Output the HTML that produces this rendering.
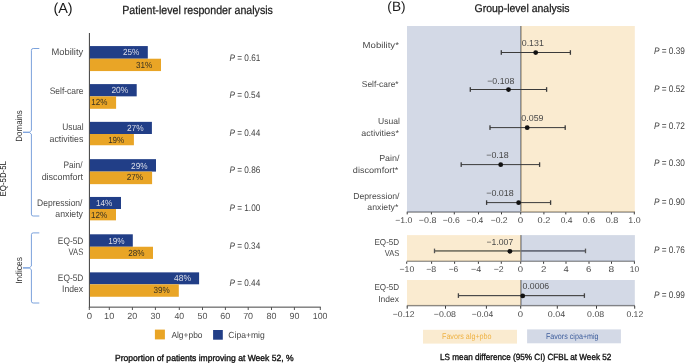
<!DOCTYPE html>
<html><head><meta charset="utf-8"><style>
html,body{margin:0;padding:0;background:#fff;}
svg{display:block;will-change:transform;text-rendering:geometricPrecision;font-family:"Liberation Sans", sans-serif;}
</style></head><body>
<svg width="685" height="363" viewBox="0 0 685 363">
<rect width="685" height="363" fill="#fff"/>
<rect x="88.9" y="33" width="1" height="274.5" fill="#3c3c3c"/>
<rect x="88.9" y="306.6" width="231.9" height="1.1" fill="#555"/>
<rect x="88.8" y="307" width="1" height="3" fill="#555"/>
<rect x="108.8" y="307" width="1" height="3" fill="#555"/>
<rect x="131.9" y="307" width="1" height="3" fill="#555"/>
<rect x="154.9" y="307" width="1" height="3" fill="#555"/>
<rect x="178.8" y="307" width="1" height="3" fill="#555"/>
<rect x="202" y="307" width="1" height="3" fill="#555"/>
<rect x="224.9" y="307" width="1" height="3" fill="#555"/>
<rect x="247.7" y="307" width="1" height="3" fill="#555"/>
<rect x="271" y="307" width="1" height="3" fill="#555"/>
<rect x="293.9" y="307" width="1" height="3" fill="#555"/>
<rect x="319.8" y="307" width="1" height="3" fill="#555"/>
<rect x="89.9" y="46.07" width="57.9" height="12.65" fill="#213e87"/>
<rect x="89.9" y="58.72" width="71.1" height="12.35" fill="#e9a526"/>
<rect x="89.9" y="84.1" width="46.8" height="12.25" fill="#213e87"/>
<rect x="89.9" y="96.35" width="26.2" height="12.45" fill="#e9a526"/>
<rect x="89.9" y="121.85" width="62" height="12.15" fill="#213e87"/>
<rect x="89.9" y="134" width="44" height="11.25" fill="#e9a526"/>
<rect x="89.9" y="159.15" width="66.1" height="12.45" fill="#213e87"/>
<rect x="89.9" y="171.6" width="62.2" height="12.55" fill="#e9a526"/>
<rect x="89.9" y="196.95" width="31.1" height="12.05" fill="#213e87"/>
<rect x="89.9" y="209" width="26.1" height="11.35" fill="#e9a526"/>
<rect x="89.9" y="234.3" width="42.9" height="12.45" fill="#213e87"/>
<rect x="89.9" y="246.75" width="63.1" height="12.15" fill="#e9a526"/>
<rect x="89.9" y="272.36" width="109.2" height="11.95" fill="#213e87"/>
<rect x="89.9" y="284.31" width="88.9" height="12.45" fill="#e9a526"/>
<rect x="154.9" y="329.6" width="10" height="9.8" fill="#e9a526"/>
<rect x="213.1" y="330" width="9.7" height="9.7" fill="#213e87"/>
<path d="M39.3 48.5 L33.2 48.5 Q31.4 48.5 31.4 50.3 L31.4 130.5 L29.2 132.3 L23 132.3 L29.2 132.3 L31.4 134.1 L31.4 214.2 Q31.4 216 33.2 216 L39.3 216" fill="none" stroke="#7ba2dc" stroke-width="1"/>
<path d="M39.3 232.9 L33.2 232.9 Q31.4 232.9 31.4 234.7 L31.4 266.1 L29.2 267.9 L23 267.9 L29.2 267.9 L31.4 269.7 L31.4 301.2 Q31.4 303 33.2 303 L39.3 303" fill="none" stroke="#7ba2dc" stroke-width="1"/>
<rect x="520.1" y="26" width="1.6" height="186.6" fill="#787878"/>
<rect x="520.1" y="235.1" width="1.6" height="26.3" fill="#787878"/>
<rect x="520.1" y="280" width="1.6" height="25.8" fill="#787878"/>
<rect x="406.8" y="211.1" width="228.2" height="1.7" fill="#949494"/>
<rect x="406.8" y="260.5" width="228.2" height="1.4" fill="#8a8a8a"/>
<rect x="406.8" y="304.9" width="228.2" height="1.4" fill="#808080"/>
<rect x="407" y="26" width="113.9" height="186" fill="#8b9bbd" fill-opacity="0.38"/>
<rect x="520.9" y="26" width="113.9" height="186" fill="#f2ca83" fill-opacity="0.38"/>
<rect x="407" y="235.1" width="113.9" height="26" fill="#f2ca83" fill-opacity="0.38"/>
<rect x="520.9" y="235.1" width="114" height="26" fill="#8b9bbd" fill-opacity="0.38"/>
<rect x="407" y="280" width="113.9" height="25.3" fill="#f2ca83" fill-opacity="0.38"/>
<rect x="520.9" y="280" width="113.9" height="25.3" fill="#8b9bbd" fill-opacity="0.38"/>
<rect x="406.7" y="212.2" width="1" height="2.2" fill="#3a3a3a"/>
<rect x="430.9" y="212.2" width="1" height="2.2" fill="#3a3a3a"/>
<rect x="453.8" y="212.2" width="1" height="2.2" fill="#3a3a3a"/>
<rect x="478" y="212.2" width="1" height="2.2" fill="#3a3a3a"/>
<rect x="501" y="212.2" width="1" height="2.2" fill="#3a3a3a"/>
<rect x="520.2" y="212.2" width="1" height="2.2" fill="#3a3a3a"/>
<rect x="543.4" y="212.2" width="1" height="2.2" fill="#3a3a3a"/>
<rect x="565.3" y="212.2" width="1" height="2.2" fill="#3a3a3a"/>
<rect x="587.8" y="212.2" width="1" height="2.2" fill="#3a3a3a"/>
<rect x="610.9" y="212.2" width="1" height="2.2" fill="#3a3a3a"/>
<rect x="633.8" y="212.2" width="1" height="2.2" fill="#3a3a3a"/>
<rect x="406.2" y="261.6" width="1" height="2.2" fill="#3a3a3a"/>
<rect x="431.1" y="261.6" width="1" height="2.2" fill="#3a3a3a"/>
<rect x="454.1" y="261.6" width="1" height="2.2" fill="#3a3a3a"/>
<rect x="477.9" y="261.6" width="1" height="2.2" fill="#3a3a3a"/>
<rect x="500.8" y="261.6" width="1" height="2.2" fill="#3a3a3a"/>
<rect x="520.2" y="261.6" width="1" height="2.2" fill="#3a3a3a"/>
<rect x="543.1" y="261.6" width="1" height="2.2" fill="#3a3a3a"/>
<rect x="565.5" y="261.6" width="1" height="2.2" fill="#3a3a3a"/>
<rect x="588.5" y="261.6" width="1" height="2.2" fill="#3a3a3a"/>
<rect x="611" y="261.6" width="1" height="2.2" fill="#3a3a3a"/>
<rect x="633.9" y="261.6" width="1" height="2.2" fill="#3a3a3a"/>
<rect x="406.7" y="305.9" width="1" height="2.8" fill="#3a3a3a"/>
<rect x="445" y="305.9" width="1" height="2.8" fill="#3a3a3a"/>
<rect x="485.9" y="305.9" width="1" height="2.8" fill="#3a3a3a"/>
<rect x="520.2" y="305.9" width="1" height="2.8" fill="#3a3a3a"/>
<rect x="556.8" y="305.9" width="1" height="2.8" fill="#3a3a3a"/>
<rect x="596" y="305.9" width="1" height="2.8" fill="#3a3a3a"/>
<rect x="634.2" y="305.9" width="1" height="2.8" fill="#3a3a3a"/>
<rect x="501.3" y="52" width="69.1" height="1" fill="#3a3a3a"/><rect x="500.65" y="50.2" width="1.3" height="4.6" fill="#3a3a3a"/><rect x="569.75" y="50.2" width="1.3" height="4.6" fill="#3a3a3a"/><circle cx="535.7" cy="52.6" r="2.4" fill="#111"/>
<rect x="470.3" y="89" width="76.3" height="1" fill="#3a3a3a"/><rect x="469.65" y="87.2" width="1.3" height="4.6" fill="#3a3a3a"/><rect x="545.95" y="87.2" width="1.3" height="4.6" fill="#3a3a3a"/><circle cx="508.5" cy="89.6" r="2.4" fill="#111"/>
<rect x="490" y="127.1" width="75.2" height="1" fill="#3a3a3a"/><rect x="489.35" y="125.3" width="1.3" height="4.6" fill="#3a3a3a"/><rect x="564.55" y="125.3" width="1.3" height="4.6" fill="#3a3a3a"/><circle cx="527.2" cy="127.7" r="2.4" fill="#111"/>
<rect x="461.2" y="164.1" width="78.4" height="1" fill="#3a3a3a"/><rect x="460.55" y="162.3" width="1.3" height="4.6" fill="#3a3a3a"/><rect x="538.95" y="162.3" width="1.3" height="4.6" fill="#3a3a3a"/><circle cx="500.7" cy="164.7" r="2.4" fill="#111"/>
<rect x="486.6" y="202.1" width="64" height="1" fill="#3a3a3a"/><rect x="485.95" y="200.3" width="1.3" height="4.6" fill="#3a3a3a"/><rect x="549.95" y="200.3" width="1.3" height="4.6" fill="#3a3a3a"/><circle cx="518.6" cy="202.7" r="2.4" fill="#111"/>
<rect x="434.5" y="250" width="86.4" height="1.8" fill="#817d6d"/><rect x="520.9" y="250" width="64.6" height="1.8" fill="#6b707e"/><rect x="433.85" y="248.6" width="1.3" height="4.6" fill="#555"/><rect x="584.85" y="248.6" width="1.3" height="4.6" fill="#555"/><circle cx="509.9" cy="251.3" r="2.4" fill="#111"/>
<rect x="458.4" y="295" width="126" height="1.2" fill="#4a4a4a"/><rect x="457.75" y="293.3" width="1.3" height="4.6" fill="#444"/><rect x="583.75" y="293.3" width="1.3" height="4.6" fill="#444"/><circle cx="522.7" cy="295.9" r="2.4" fill="#111"/>
<rect x="423" y="329.8" width="94" height="13.8" fill="#faebd0"/>
<rect x="527.1" y="329.4" width="93.8" height="13.9" fill="#d3d9e6"/>
<text x="53.39" y="12.85" font-size="14.4" fill="#1a1a1a" textLength="19.18" lengthAdjust="spacingAndGlyphs">(A)</text>
<text x="122.25" y="14.45" font-size="11.7" fill="#1a1a1a" textLength="150.67" lengthAdjust="spacingAndGlyphs" stroke="#1a1a1a" stroke-width="0.25">Patient-level responder analysis</text>
<text x="51.45" y="55.4" font-size="9.4" fill="#4a4a4a" textLength="31.75" lengthAdjust="spacingAndGlyphs">Mobility</text>
<text x="49.66" y="93.7" font-size="9.4" fill="#4a4a4a" textLength="33.84" lengthAdjust="spacingAndGlyphs">Self-care</text>
<text x="62.21" y="130.4" font-size="9.4" fill="#4a4a4a" textLength="21.41" lengthAdjust="spacingAndGlyphs">Usual</text>
<text x="49.55" y="141.5" font-size="9.4" fill="#4a4a4a" textLength="33.82" lengthAdjust="spacingAndGlyphs">activities</text>
<text x="63.43" y="168.1" font-size="9.4" fill="#4a4a4a" textLength="19.05" lengthAdjust="spacingAndGlyphs">Pain/</text>
<text x="41.64" y="179.7" font-size="9.4" fill="#4a4a4a" textLength="41.34" lengthAdjust="spacingAndGlyphs">discomfort</text>
<text x="37.02" y="205.5" font-size="9.4" fill="#4a4a4a" textLength="45.46" lengthAdjust="spacingAndGlyphs">Depression/</text>
<text x="55.35" y="217.1" font-size="9.4" fill="#4a4a4a" textLength="27.65" lengthAdjust="spacingAndGlyphs">anxiety</text>
<text x="57.83" y="243.9" font-size="9.4" fill="#4a4a4a" textLength="25.52" lengthAdjust="spacingAndGlyphs">EQ-5D</text>
<text x="68.6" y="255.1" font-size="9.4" fill="#4a4a4a" textLength="14.68" lengthAdjust="spacingAndGlyphs">VAS</text>
<text x="57.83" y="280.8" font-size="9.4" fill="#4a4a4a" textLength="25.52" lengthAdjust="spacingAndGlyphs">EQ-5D</text>
<text x="62.03" y="292.2" font-size="9.4" fill="#4a4a4a" textLength="21.06" lengthAdjust="spacingAndGlyphs">Index</text>
<text x="122.99" y="55.2" font-size="8.9" fill="#dadde8" textLength="16.35" lengthAdjust="spacingAndGlyphs">25%</text>
<text x="135.96" y="68" font-size="8.9" fill="#3a3220" textLength="16.28" lengthAdjust="spacingAndGlyphs">31%</text>
<text x="111.38" y="93.3" font-size="8.9" fill="#dadde8" textLength="16.76" lengthAdjust="spacingAndGlyphs">20%</text>
<text x="91.34" y="105" font-size="8.9" fill="#3a3220" textLength="16.1" lengthAdjust="spacingAndGlyphs">12%</text>
<text x="126.98" y="130.8" font-size="8.9" fill="#dadde8" textLength="16.66" lengthAdjust="spacingAndGlyphs">27%</text>
<text x="108.14" y="142.8" font-size="8.9" fill="#3a3220" textLength="16.1" lengthAdjust="spacingAndGlyphs">19%</text>
<text x="131.09" y="168.7" font-size="8.9" fill="#dadde8" textLength="16.45" lengthAdjust="spacingAndGlyphs">29%</text>
<text x="126.69" y="180.4" font-size="8.9" fill="#3a3220" textLength="16.45" lengthAdjust="spacingAndGlyphs">27%</text>
<text x="95.93" y="205.8" font-size="8.9" fill="#dadde8" textLength="16.41" lengthAdjust="spacingAndGlyphs">14%</text>
<text x="91.03" y="217.6" font-size="8.9" fill="#3a3220" textLength="16.2" lengthAdjust="spacingAndGlyphs">12%</text>
<text x="108.13" y="243.5" font-size="8.9" fill="#dadde8" textLength="16.41" lengthAdjust="spacingAndGlyphs">19%</text>
<text x="128.29" y="255.6" font-size="8.9" fill="#3a3220" textLength="16.24" lengthAdjust="spacingAndGlyphs">28%</text>
<text x="174.03" y="281.4" font-size="8.9" fill="#dadde8" textLength="17.02" lengthAdjust="spacingAndGlyphs">48%</text>
<text x="153.56" y="293.4" font-size="8.9" fill="#3a3220" textLength="16.28" lengthAdjust="spacingAndGlyphs">39%</text>
<text x="229.45" y="60.6" font-size="9.5" fill="#444444" textLength="30.93" lengthAdjust="spacingAndGlyphs"><tspan font-style="italic">P</tspan> = 0.61</text>
<text x="229.45" y="98.2" font-size="9.5" fill="#444444" textLength="30.76" lengthAdjust="spacingAndGlyphs"><tspan font-style="italic">P</tspan> = 0.54</text>
<text x="229.45" y="135.8" font-size="9.5" fill="#444444" textLength="30.76" lengthAdjust="spacingAndGlyphs"><tspan font-style="italic">P</tspan> = 0.44</text>
<text x="229.45" y="173.4" font-size="9.5" fill="#444444" textLength="30.84" lengthAdjust="spacingAndGlyphs"><tspan font-style="italic">P</tspan> = 0.86</text>
<text x="229.45" y="211" font-size="9.5" fill="#444444" textLength="30.84" lengthAdjust="spacingAndGlyphs"><tspan font-style="italic">P</tspan> = 1.00</text>
<text x="229.45" y="248.6" font-size="9.5" fill="#444444" textLength="30.76" lengthAdjust="spacingAndGlyphs"><tspan font-style="italic">P</tspan> = 0.34</text>
<text x="229.45" y="286.2" font-size="9.5" fill="#444444" textLength="30.76" lengthAdjust="spacingAndGlyphs"><tspan font-style="italic">P</tspan> = 0.44</text>
<text x="86.66" y="318.7" font-size="8.9" fill="#505050" textLength="5.33" lengthAdjust="spacingAndGlyphs">0</text>
<text x="104.06" y="318.7" font-size="8.9" fill="#505050" textLength="10.17" lengthAdjust="spacingAndGlyphs">10</text>
<text x="127.35" y="318.7" font-size="8.9" fill="#505050" textLength="9.97" lengthAdjust="spacingAndGlyphs">20</text>
<text x="150.54" y="318.7" font-size="8.9" fill="#505050" textLength="9.78" lengthAdjust="spacingAndGlyphs">30</text>
<text x="174.53" y="318.7" font-size="8.9" fill="#505050" textLength="9.69" lengthAdjust="spacingAndGlyphs">40</text>
<text x="197.54" y="318.7" font-size="8.9" fill="#505050" textLength="9.88" lengthAdjust="spacingAndGlyphs">50</text>
<text x="220.35" y="318.7" font-size="8.9" fill="#505050" textLength="9.97" lengthAdjust="spacingAndGlyphs">60</text>
<text x="243.15" y="318.7" font-size="8.9" fill="#505050" textLength="9.97" lengthAdjust="spacingAndGlyphs">70</text>
<text x="266.54" y="318.7" font-size="8.9" fill="#505050" textLength="9.88" lengthAdjust="spacingAndGlyphs">80</text>
<text x="289.44" y="318.7" font-size="8.9" fill="#505050" textLength="9.88" lengthAdjust="spacingAndGlyphs">90</text>
<text x="312.84" y="318.7" font-size="8.9" fill="#505050" textLength="14.63" lengthAdjust="spacingAndGlyphs">100</text>
<text x="171.4" y="338" font-size="8.9" fill="#454545" textLength="31.1" lengthAdjust="spacingAndGlyphs">Alg+pbo</text>
<text x="228.37" y="338" font-size="8.9" fill="#454545" textLength="36.31" lengthAdjust="spacingAndGlyphs">Cipa+mig</text>
<text x="115.02" y="361" font-size="8.9" fill="#111111" textLength="178.63" lengthAdjust="spacingAndGlyphs" stroke="#111111" stroke-width="0.35">Proportion of patients improving at Week 52, %</text>
<text x="-0.64" y="0" font-size="9" fill="#2e2e2e" textLength="31.37" lengthAdjust="spacingAndGlyphs" transform="translate(21.8 141) rotate(-90)">Domains</text>
<text x="-0.63" y="0" font-size="8.7" fill="#111111" textLength="35.54" lengthAdjust="spacingAndGlyphs" transform="translate(6.3 195.9) rotate(-90)">EQ-5D-5L</text>
<text x="-0.76" y="0" font-size="9" fill="#2e2e2e" textLength="26.61" lengthAdjust="spacingAndGlyphs" transform="translate(21.6 283) rotate(-90)">Indices</text>
<text x="387.38" y="11.1" font-size="13.6" fill="#1a1a1a" textLength="18.25" lengthAdjust="spacingAndGlyphs">(B)</text>
<text x="474.47" y="11.7" font-size="11.2" fill="#1a1a1a" textLength="95.14" lengthAdjust="spacingAndGlyphs" stroke="#1a1a1a" stroke-width="0.25">Group-level analysis</text>
<text x="362.63" y="48.1" font-size="8.6" fill="#4a4a4a" textLength="36.26" lengthAdjust="spacingAndGlyphs">Mobility*</text>
<text x="361.87" y="87.3" font-size="8.6" fill="#4a4a4a" textLength="36.71" lengthAdjust="spacingAndGlyphs">Self-care*</text>
<text x="378" y="123.8" font-size="8.6" fill="#4a4a4a" textLength="21.83" lengthAdjust="spacingAndGlyphs">Usual</text>
<text x="361.34" y="135.5" font-size="8.6" fill="#4a4a4a" textLength="37.54" lengthAdjust="spacingAndGlyphs">activities*</text>
<text x="379.19" y="160.9" font-size="8.6" fill="#4a4a4a" textLength="20.29" lengthAdjust="spacingAndGlyphs">Pain/</text>
<text x="352.84" y="172.7" font-size="8.6" fill="#4a4a4a" textLength="45.55" lengthAdjust="spacingAndGlyphs">discomfort*</text>
<text x="353.21" y="199.1" font-size="8.6" fill="#4a4a4a" textLength="46.27" lengthAdjust="spacingAndGlyphs">Depression/</text>
<text x="367.35" y="209.9" font-size="8.6" fill="#4a4a4a" textLength="31.03" lengthAdjust="spacingAndGlyphs">anxiety*</text>
<text x="374.45" y="245.1" font-size="8.6" fill="#4a4a4a" textLength="24.79" lengthAdjust="spacingAndGlyphs">EQ-5D</text>
<text x="384.7" y="256.4" font-size="8.6" fill="#4a4a4a" textLength="14.48" lengthAdjust="spacingAndGlyphs">VAS</text>
<text x="374.45" y="290.4" font-size="8.6" fill="#4a4a4a" textLength="24.79" lengthAdjust="spacingAndGlyphs">EQ-5D</text>
<text x="378.13" y="301.6" font-size="8.6" fill="#4a4a4a" textLength="20.85" lengthAdjust="spacingAndGlyphs">Index</text>
<text x="521.74" y="46" font-size="8.75" fill="#474747" textLength="22.07" lengthAdjust="spacingAndGlyphs">0.131</text>
<text x="487.25" y="83.6" font-size="8.75" fill="#474747" textLength="27.07" lengthAdjust="spacingAndGlyphs">−0.108</text>
<text x="521.33" y="120.9" font-size="8.75" fill="#474747" textLength="22.17" lengthAdjust="spacingAndGlyphs">0.059</text>
<text x="486.24" y="157.8" font-size="8.75" fill="#474747" textLength="22.48" lengthAdjust="spacingAndGlyphs">−0.18</text>
<text x="486.24" y="196.2" font-size="8.75" fill="#474747" textLength="27.48" lengthAdjust="spacingAndGlyphs">−0.018</text>
<text x="486.55" y="244.7" font-size="8.75" fill="#474747" textLength="26.64" lengthAdjust="spacingAndGlyphs">−1.007</text>
<text x="522.54" y="289" font-size="8.75" fill="#474747" textLength="26.68" lengthAdjust="spacingAndGlyphs">0.0006</text>
<text x="653.95" y="54" font-size="9.5" fill="#444444" textLength="31.03" lengthAdjust="spacingAndGlyphs"><tspan font-style="italic">P</tspan> = 0.39</text>
<text x="653.95" y="91.8" font-size="9.5" fill="#444444" textLength="31.03" lengthAdjust="spacingAndGlyphs"><tspan font-style="italic">P</tspan> = 0.52</text>
<text x="653.95" y="129.1" font-size="9.5" fill="#444444" textLength="31.03" lengthAdjust="spacingAndGlyphs"><tspan font-style="italic">P</tspan> = 0.72</text>
<text x="653.95" y="166.3" font-size="9.5" fill="#444444" textLength="30.95" lengthAdjust="spacingAndGlyphs"><tspan font-style="italic">P</tspan> = 0.30</text>
<text x="653.95" y="204.5" font-size="9.5" fill="#444444" textLength="30.95" lengthAdjust="spacingAndGlyphs"><tspan font-style="italic">P</tspan> = 0.90</text>
<text x="653.95" y="253" font-size="9.5" fill="#444444" textLength="30.95" lengthAdjust="spacingAndGlyphs"><tspan font-style="italic">P</tspan> = 0.76</text>
<text x="653.95" y="298" font-size="9.5" fill="#444444" textLength="31.03" lengthAdjust="spacingAndGlyphs"><tspan font-style="italic">P</tspan> = 0.99</text>
<text x="395.25" y="223" font-size="8.4" fill="#4a4a4a" textLength="17.06" lengthAdjust="spacingAndGlyphs">−1.0</text>
<text x="418.84" y="223" font-size="8.4" fill="#4a4a4a" textLength="17.58" lengthAdjust="spacingAndGlyphs">−0.8</text>
<text x="442.75" y="223" font-size="8.4" fill="#4a4a4a" textLength="17.06" lengthAdjust="spacingAndGlyphs">−0.6</text>
<text x="466.46" y="223" font-size="8.4" fill="#4a4a4a" textLength="16.87" lengthAdjust="spacingAndGlyphs">−0.4</text>
<text x="490.65" y="223" font-size="8.4" fill="#4a4a4a" textLength="17.04" lengthAdjust="spacingAndGlyphs">−0.2</text>
<text x="517.71" y="223" font-size="8.4" fill="#4a4a4a" textLength="5.45" lengthAdjust="spacingAndGlyphs">0</text>
<text x="537.63" y="223" font-size="8.4" fill="#4a4a4a" textLength="12.7" lengthAdjust="spacingAndGlyphs">0.2</text>
<text x="560.75" y="223" font-size="8.4" fill="#4a4a4a" textLength="11.78" lengthAdjust="spacingAndGlyphs">0.4</text>
<text x="582.83" y="223" font-size="8.4" fill="#4a4a4a" textLength="12.28" lengthAdjust="spacingAndGlyphs">0.6</text>
<text x="605.73" y="223" font-size="8.4" fill="#4a4a4a" textLength="12.6" lengthAdjust="spacingAndGlyphs">0.8</text>
<text x="628.38" y="223" font-size="8.4" fill="#4a4a4a" textLength="12.34" lengthAdjust="spacingAndGlyphs">1.0</text>
<text x="399.55" y="271.7" font-size="8.4" fill="#4a4a4a" textLength="14.66" lengthAdjust="spacingAndGlyphs">−10</text>
<text x="426.15" y="271.7" font-size="8.4" fill="#4a4a4a" textLength="10.07" lengthAdjust="spacingAndGlyphs">−8</text>
<text x="448.66" y="271.7" font-size="8.4" fill="#4a4a4a" textLength="9.64" lengthAdjust="spacingAndGlyphs">−6</text>
<text x="471.04" y="271.7" font-size="8.4" fill="#4a4a4a" textLength="10.3" lengthAdjust="spacingAndGlyphs">−4</text>
<text x="493.65" y="271.7" font-size="8.4" fill="#4a4a4a" textLength="10.06" lengthAdjust="spacingAndGlyphs">−2</text>
<text x="517.81" y="271.7" font-size="8.4" fill="#4a4a4a" textLength="5.33" lengthAdjust="spacingAndGlyphs">0</text>
<text x="541.11" y="271.7" font-size="8.4" fill="#4a4a4a" textLength="5.44" lengthAdjust="spacingAndGlyphs">2</text>
<text x="563.61" y="271.7" font-size="8.4" fill="#4a4a4a" textLength="5.23" lengthAdjust="spacingAndGlyphs">4</text>
<text x="586.12" y="271.7" font-size="8.4" fill="#4a4a4a" textLength="5.32" lengthAdjust="spacingAndGlyphs">6</text>
<text x="608.59" y="271.7" font-size="8.4" fill="#4a4a4a" textLength="5.68" lengthAdjust="spacingAndGlyphs">8</text>
<text x="629.71" y="271.7" font-size="8.4" fill="#4a4a4a" textLength="9.4" lengthAdjust="spacingAndGlyphs">10</text>
<text x="392.86" y="316.6" font-size="8.4" fill="#4a4a4a" textLength="21.74" lengthAdjust="spacingAndGlyphs">−0.12</text>
<text x="433.75" y="316.6" font-size="8.4" fill="#4a4a4a" textLength="22.27" lengthAdjust="spacingAndGlyphs">−0.08</text>
<text x="471.76" y="316.6" font-size="8.4" fill="#4a4a4a" textLength="21.56" lengthAdjust="spacingAndGlyphs">−0.04</text>
<text x="517.81" y="316.6" font-size="8.4" fill="#4a4a4a" textLength="5.33" lengthAdjust="spacingAndGlyphs">0</text>
<text x="547.73" y="316.6" font-size="8.4" fill="#4a4a4a" textLength="17.4" lengthAdjust="spacingAndGlyphs">0.04</text>
<text x="587.14" y="316.6" font-size="8.4" fill="#4a4a4a" textLength="17.08" lengthAdjust="spacingAndGlyphs">0.08</text>
<text x="626.44" y="316.6" font-size="8.4" fill="#4a4a4a" textLength="16.76" lengthAdjust="spacingAndGlyphs">0.12</text>
<text x="442.03" y="339" font-size="8.2" fill="#eeb244" textLength="49.53" lengthAdjust="spacingAndGlyphs">Favors alg+pbo</text>
<text x="545.93" y="339" font-size="8.2" fill="#3d5d9c" textLength="52.67" lengthAdjust="spacingAndGlyphs">Favors cipa+mig</text>
<text x="440.05" y="360.1" font-size="8.9" fill="#111111" textLength="171.33" lengthAdjust="spacingAndGlyphs" stroke="#111111" stroke-width="0.35">LS mean difference (95% CI) CFBL at Week 52</text>
</svg>
</body></html>
